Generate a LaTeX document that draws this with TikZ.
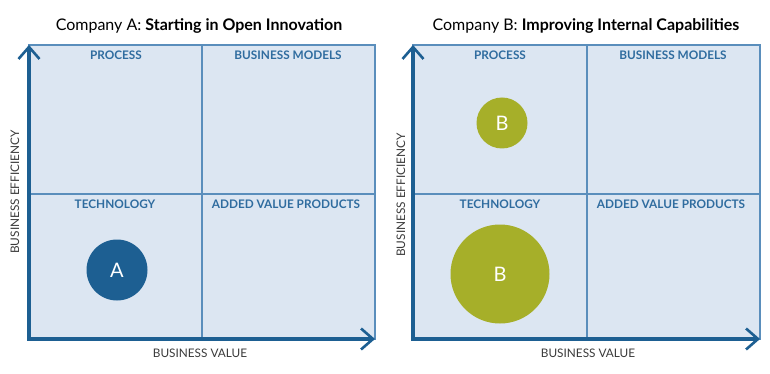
\documentclass[tikz,border=0pt]{standalone}
\usepackage{fontspec}
\setmainfont{Lato}
\usetikzlibrary{arrows.meta}
\definecolor{axisblue}{HTML}{1D5F92}
\definecolor{gridblue}{HTML}{5A8EBC}
\definecolor{fillblue}{HTML}{DCE6F2}
\definecolor{labblue}{HTML}{2F6C9F}
\definecolor{olive}{HTML}{A6AF29}
\definecolor{greytext}{HTML}{3A3A3A}
\tikzset{
  x=1pt,y=-1pt,
  quad/.style={fill=fillblue,draw=gridblue,line width=1.3pt},
  divider/.style={draw=gridblue,line width=1.3pt},
  axisline/.style={draw=axisblue,line width=3.6pt,line join=miter,
    {Straight Barb[length=12pt,width=21pt,line width=2.6pt]}-{Straight Barb[length=12pt,width=21pt,line width=2.6pt]}},
  quadlabel/.style={text=labblue,font=\fontsize{11.8}{13}\selectfont\bfseries,anchor=center},
  axlabel/.style={text=greytext,font=\fontsize{11.8}{13}\selectfont},
  titlelabel/.style={text=black,font=\fontsize{16}{19}\selectfont},
  bubble/.style={circle,inner sep=0pt,text=white,font=\fontsize{20}{23}\selectfont}
}
\begin{document}
\begin{tikzpicture}
\useasboundingbox (0,0) rectangle (770,374);
% ---------- Company A ----------
\node[titlelabel] (tA) at (199,26) {Company A: \textbf{Starting in Open Innovation}};
\coordinate (a00) at (29,339);
\coordinate (atop) at (29,45);
\coordinate (aright) at (375,339);
\path[quad] (29,45) rectangle (375,339);
\draw[divider] (202,45) -- (202,339);
\draw[divider] (29,194) -- (375,194);
\draw[axisline] (atop) -- (a00) -- (aright);
\node[quadlabel] (apr) at (116,55) {PROCESS};
\node[quadlabel] (abm) at (288,55) {BUSINESS MODELS};
\node[quadlabel] (ate) at (115,204) {TECHNOLOGY};
\node[quadlabel] (aav) at (286,204) {ADDED VALUE PRODUCTS};
\node[axlabel] (abv) at (200,353) {BUSINESS VALUE};
\node[axlabel,rotate=90] (abe) at (15,192) {BUSINESS EFFICIENCY};
\node[bubble,fill=axisblue,minimum size=61pt] (cA) at (117,270) {A};
% ---------- Company B ----------
\node[titlelabel] (tB) at (586,26) {Company B: \textbf{Improving Internal Capabilities}};
\coordinate (b00) at (413,339);
\coordinate (btop) at (413,45);
\coordinate (bright) at (760,339);
\path[quad] (413,45) rectangle (760,339);
\draw[divider] (587,45) -- (587,339);
\draw[divider] (413,194) -- (760,194);
\draw[axisline] (btop) -- (b00) -- (bright);
\node[quadlabel] (bpr) at (500,55) {PROCESS};
\node[quadlabel] (bbm) at (673,55) {BUSINESS MODELS};
\node[quadlabel] (bte) at (500,204) {TECHNOLOGY};
\node[quadlabel] (bav) at (671,204) {ADDED VALUE PRODUCTS};
\node[axlabel] (bbv) at (588,353) {BUSINESS VALUE};
\node[axlabel,rotate=90] (bbe) at (401,195) {BUSINESS EFFICIENCY};
\node[bubble,fill=olive,minimum size=51pt] (cB1) at (502,123) {B};
\node[bubble,fill=olive,minimum size=99pt] (cB2) at (500,274) {B};
\end{tikzpicture}
\end{document}
